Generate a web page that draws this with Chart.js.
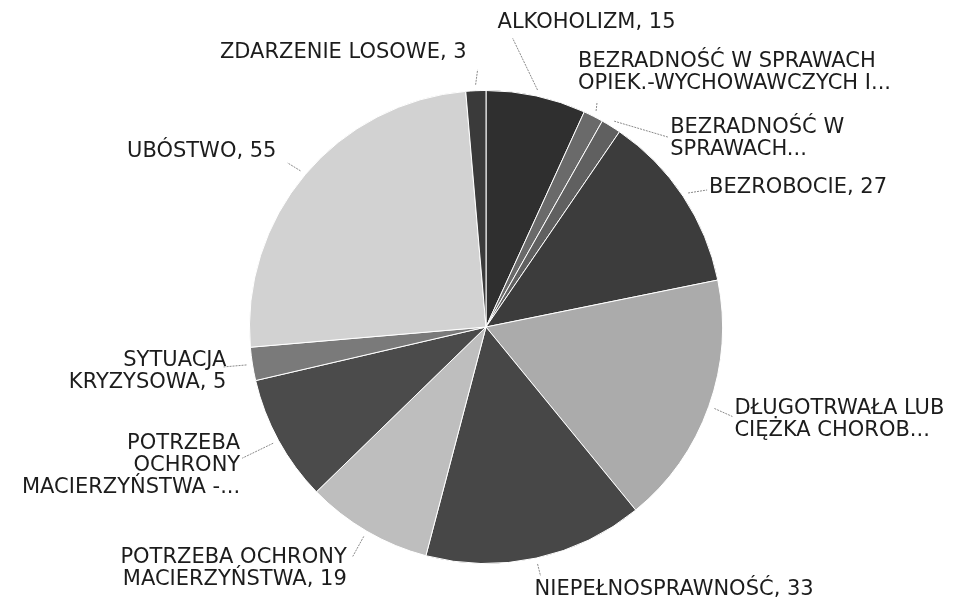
<!DOCTYPE html>
<html>
<head>
<meta charset="utf-8">
<script src="https://cdn.jsdelivr.net/npm/chart.js@4.4.1/dist/chart.umd.min.js"></script>
<style>
  html, body { margin: 0; padding: 0; background: #fff; }
  #wrap { width: 956px; height: 602px; }
</style>
</head>
<body>
<div id="wrap"><canvas id="pieChart" width="956" height="602"></canvas></div>
<script>
const categories = [
  'ALKOHOLIZM',
  'BEZRADNOŚĆ W SPRAWACH OPIEK.-WYCHOWAWCZYCH I PROWADZENIA GOSPODARSTWA DOMOWEGO',
  'BEZRADNOŚĆ W SPRAWACH OPIEKUŃCZO-WYCHOWAWCZYCH',
  'BEZROBOCIE',
  'DŁUGOTRWAŁA LUB CIĘŻKA CHOROBA',
  'NIEPEŁNOSPRAWNOŚĆ',
  'POTRZEBA OCHRONY MACIERZYŃSTWA',
  'POTRZEBA OCHRONY MACIERZYŃSTWA - WIELODZIETNOŚĆ',
  'SYTUACJA KRYZYSOWA',
  'UBÓSTWO',
  'ZDARZENIE LOSOWE'
];
const values = [15, 3, 3, 27, 38, 33, 19, 19, 5, 55, 3];

// text shown next to each slice, line by line
const sliceLabels = [
  ['ALKOHOLIZM, 15'],
  ['BEZRADNOŚĆ W SPRAWACH', 'OPIEK.-WYCHOWAWCZYCH I...'],
  ['BEZRADNOŚĆ W', 'SPRAWACH...'],
  ['BEZROBOCIE, 27'],
  ['DŁUGOTRWAŁA LUB', 'CIĘŻKA CHOROB...'],
  ['NIEPEŁNOSPRAWNOŚĆ, 33'],
  ['POTRZEBA OCHRONY', 'MACIERZYŃSTWA, 19'],
  ['POTRZEBA', 'OCHRONY', 'MACIERZYŃSTWA -...'],
  ['SYTUACJA', 'KRYZYSOWA, 5'],
  ['UBÓSTWO, 55'],
  ['ZDARZENIE LOSOWE, 3']
];

const sliceColors = ['#2f2f2f', '#6a6a6a', '#606060', '#3c3c3c', '#ababab', '#474747',
                     '#bebebe', '#4b4b4b', '#7a7a7a', '#d2d2d2', '#3a3a3a'];

// label layout relative to the point just outside each slice: line end and text anchor
const labelLayout = [
  { line: [-25, -52], text: [-40, -67], align: 'left' },
  { line: [1, -9], text: [-18, -49], align: 'left' },
  { line: [54, 16], text: [56, 6], align: 'left' },
  { line: [19, -3], text: [21, -5], align: 'left' },
  { line: [18, 8], text: [20, 0], align: 'left' },
  { line: [3, 12], text: [-3, 26], align: 'left' },
  { line: [-11, 20], text: [-17, 21], align: 'right' },
  { line: [-31, 15], text: [-33, 0], align: 'right' },
  { line: [-23, 2], text: [-20, -4], align: 'right' },
  { line: [-13, -8], text: [-24, -19], align: 'right' },
  { line: [2, -15], text: [-9, -32], align: 'right' }
];

const outsideLabels = {
  id: 'outsideLabels',
  afterDatasetsDraw(chart) {
    const ctx = chart.ctx;
    const meta = chart.getDatasetMeta(0);
    ctx.save();
    ctx.font = '21px "DejaVu Sans"';
    ctx.textBaseline = 'middle';
    meta.data.forEach((arc, i) => {
      const p = arc.getProps(['x', 'y', 'startAngle', 'endAngle', 'outerRadius'], true);
      const mid = (p.startAngle + p.endAngle) / 2;
      const r = p.outerRadius + 6;
      const x0 = p.x + Math.cos(mid) * r;
      const y0 = p.y + Math.sin(mid) * r;
      const lay = labelLayout[i];
      ctx.strokeStyle = '#8a8a8a';
      ctx.lineWidth = 1;
      ctx.setLineDash([2, 1]);
      ctx.beginPath();
      ctx.moveTo(x0, y0);
      ctx.lineTo(x0 + lay.line[0], y0 + lay.line[1]);
      ctx.stroke();
      ctx.setLineDash([]);
      ctx.fillStyle = '#1c1c1c';
      ctx.textAlign = lay.align;
      sliceLabels[i].forEach((txt, k) => {
        ctx.fillText(txt, x0 + lay.text[0], y0 + lay.text[1] + k * 22);
      });
    });
    ctx.restore();
  }
};

const ctx = document.getElementById('pieChart').getContext('2d');
new Chart(ctx, {
  type: 'pie',
  data: {
    labels: categories,
    datasets: [{
      data: values,
      backgroundColor: sliceColors,
      borderColor: '#ffffff',
      borderWidth: 1
    }]
  },
  options: {
    responsive: false,
    animation: false,
    layout: { padding: { top: 90, bottom: 38, left: 100, right: 84 } },
    plugins: {
      legend: { display: false },
      tooltip: { enabled: false }
    }
  },
  plugins: [outsideLabels]
});
</script>
</body>
</html>
